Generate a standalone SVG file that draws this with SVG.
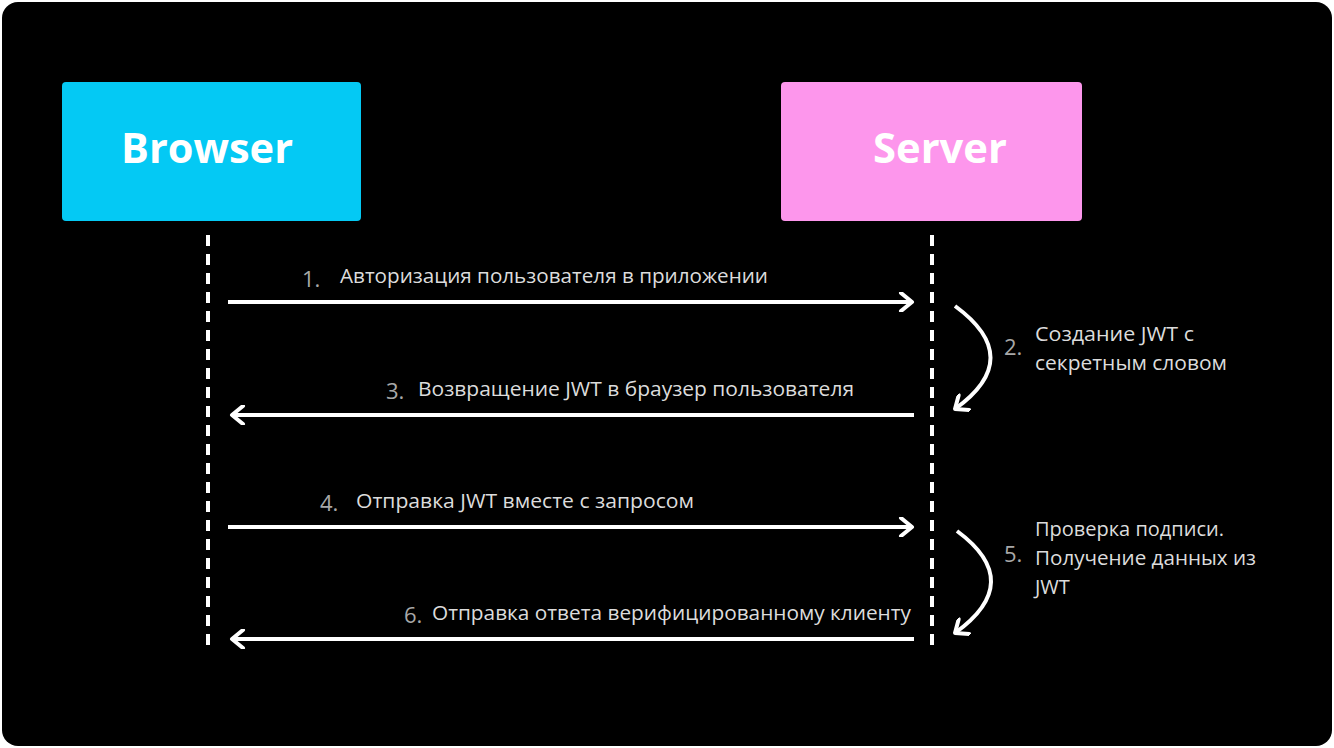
<svg xmlns="http://www.w3.org/2000/svg" width="1334" height="748" viewBox="0 0 1334 748">
<style>
.lbl{font-family:"Open Sans","Noto Sans","DejaVu Sans",sans-serif;font-size:20px;fill:#dcdcdc}
.num{font-family:"Open Sans","Noto Sans","DejaVu Sans",sans-serif;font-size:22px;fill:#a8a8a8}
.title{font-family:"Open Sans","Noto Sans","DejaVu Sans",sans-serif;font-size:42px;font-weight:bold;fill:#ffffff}
.life{stroke:#ffffff;stroke-width:4;stroke-dasharray:11 8;fill:none}
.msg{stroke:#ffffff;stroke-width:4;fill:none}
</style>
<defs>
<marker id="chev" viewBox="0 0 20 20" refX="16" refY="10" markerWidth="20" markerHeight="20" markerUnits="userSpaceOnUse" orient="auto">
<path d="M5,1 L16,10 L5,19" fill="none" stroke="#ffffff" stroke-width="4" stroke-linecap="round" stroke-linejoin="round"/>
</marker>
</defs>
<rect x="0" y="0" width="1334" height="748" fill="#ffffff"/>
<rect x="2" y="2" width="1330" height="744" rx="16" fill="#000000"/>
<g id="browser">
<rect x="62" y="82" width="299" height="139" rx="4" fill="#04c9f4"/>
<text class="title" x="207" y="163" text-anchor="middle" textLength="172" lengthAdjust="spacingAndGlyphs">Browser</text>
</g>
<g id="server">
<rect x="781" y="82" width="301" height="139" rx="4" fill="#fd96ec"/>
<text class="title" x="940" y="163" text-anchor="middle" textLength="134" lengthAdjust="spacingAndGlyphs">Server</text>
</g>
<g id="lifelines">
<line class="life" x1="208" y1="235" x2="208" y2="646"/>
<line class="life" x1="932" y1="235" x2="932" y2="646"/>
</g>
<g id="connectors">
<line class="msg" x1="228" y1="302" x2="912" y2="302" marker-end="url(#chev)"/>
<line class="msg" x1="914" y1="415" x2="232" y2="415" marker-end="url(#chev)"/>
<line class="msg" x1="228" y1="527" x2="912" y2="527" marker-end="url(#chev)"/>
<line class="msg" x1="914" y1="639" x2="232" y2="639" marker-end="url(#chev)"/>
<path class="msg" d="M955,306 Q1026,358 955,409" marker-end="url(#chev)"/>
<path class="msg" d="M957,531 Q1026,582 955,633" marker-end="url(#chev)"/>
</g>
<g id="labels">
<text class="num" x="302" y="287">1.</text>
<text class="lbl" x="340" y="283" textLength="428" lengthAdjust="spacingAndGlyphs">Авторизация пользователя в приложении</text>
<text class="num" x="1004" y="355">2.</text>
<text class="lbl" x="1035" y="341" textLength="159" lengthAdjust="spacingAndGlyphs">Создание JWT с</text>
<text class="lbl" x="1035" y="370" textLength="192" lengthAdjust="spacingAndGlyphs">секретным словом</text>
<text class="num" x="386" y="399">3.</text>
<text class="lbl" x="418" y="396" textLength="436" lengthAdjust="spacingAndGlyphs">Возвращение JWT в браузер пользователя</text>
<text class="num" x="320" y="511">4.</text>
<text class="lbl" x="356" y="508" textLength="338" lengthAdjust="spacingAndGlyphs">Отправка JWT вместе с запросом</text>
<text class="num" x="1004" y="562">5.</text>
<text class="lbl" x="1035" y="536" textLength="189" lengthAdjust="spacingAndGlyphs">Проверка подписи.</text>
<text class="lbl" x="1035" y="565" textLength="221" lengthAdjust="spacingAndGlyphs">Получение данных из</text>
<text class="lbl" x="1035" y="594">JWT</text>
<text class="num" x="404" y="623">6.</text>
<text class="lbl" x="432" y="620" textLength="479" lengthAdjust="spacingAndGlyphs">Отправка ответа верифицированному клиенту</text>
</g>
</svg>
